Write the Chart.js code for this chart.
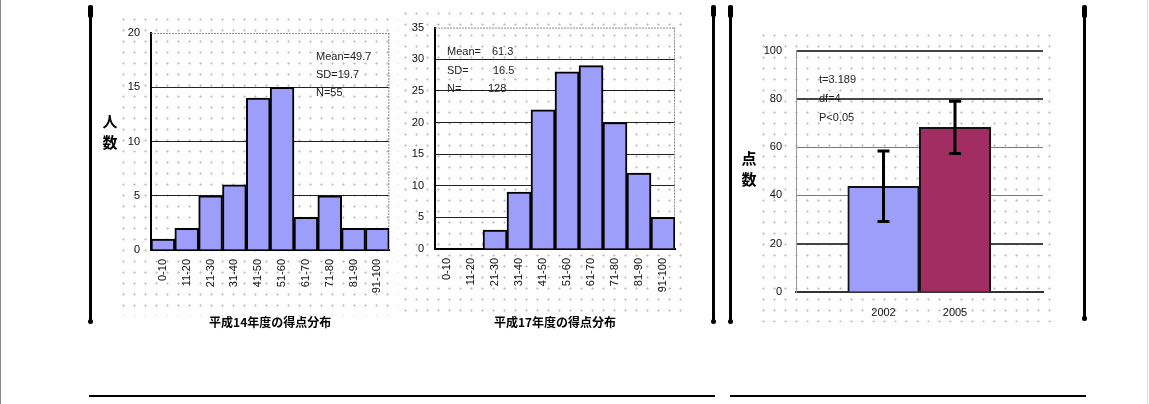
<!DOCTYPE html>
<html>
<head>
<meta charset="utf-8">
<script src="https://cdn.jsdelivr.net/npm/chart.js@4.4.0/dist/chart.umd.min.js"></script>
<style>
  body { margin: 0; background: #fff; }
  #page { position: relative; width: 1149px; height: 404px; overflow: hidden; font-family: "Liberation Sans", Arial, sans-serif; }
  .dots { position: absolute; background-image: radial-gradient(circle, #bdbdbd 0.9px, rgba(255,255,255,0) 1.2px); background-size: 11px 11px; }
  canvas { position: absolute; }
  .ln { position: absolute; background: #000; }
  .cap { position: absolute; background: #000; border-radius: 2px; }
  .note { position: absolute; font-size: 11px; color: #222; white-space: pre; }
  .ytitle { position: absolute; font-family: "Noto Sans CJK JP", sans-serif; font-weight: bold; font-size: 15px; line-height: 21px; width: 18px; text-align: center; color: #000; }
</style>
</head>
<body>
<div id="page">
  <div style="position:absolute;left:0;top:0;width:1px;height:404px;background:#888"></div>
  <div style="position:absolute;left:1147px;top:0;width:1px;height:404px;background:#ddd"></div>

  <div class="dots" style="left:118px;top:14px;width:280px;height:302px"></div>
  <div class="dots" style="left:400px;top:8px;width:290px;height:310px"></div>
  <div class="dots" style="left:758px;top:30px;width:297px;height:292px"></div>

  <canvas id="c1" width="305" height="325" style="left:95px;top:10px"></canvas>
  <canvas id="c2" width="300" height="325" style="left:400px;top:10px"></canvas>
  <canvas id="c3" width="310" height="300" style="left:755px;top:30px"></canvas>

  <div class="ytitle" style="left:101px;top:110px">人<br>数</div>
  <div class="ytitle" style="left:740px;top:147px">点<br>数</div>

  <div class="note" style="left:316px;top:50px">Mean=49.7</div>
  <div class="note" style="left:316px;top:68px">SD=19.7</div>
  <div class="note" style="left:316px;top:86px">N=55</div>

  <div class="note" style="left:447px;top:45px">Mean=</div>
  <div class="note" style="left:492px;top:45px">61.3</div>
  <div class="note" style="left:447px;top:64px">SD=</div>
  <div class="note" style="left:493px;top:64px">16.5</div>
  <div class="note" style="left:447px;top:82px">N=</div>
  <div class="note" style="left:488px;top:82px">128</div>

  <div class="note" style="left:819px;top:73px">t=3.189</div>
  <div class="note" style="left:819px;top:92px">df=4</div>
  <div class="note" style="left:819px;top:111px">P&lt;0.05</div>

  <!-- brackets -->
  <div class="ln" style="left:89px;top:8px;width:3px;height:313px"></div>
  <div class="cap" style="left:88px;top:5px;width:5px;height:13px"></div>
  <div class="cap" style="left:88px;top:319px;width:5px;height:5px;border-radius:3px"></div>

  <div class="ln" style="left:712px;top:8px;width:3px;height:313px"></div>
  <div class="cap" style="left:711px;top:5px;width:5px;height:12px"></div>
  <div class="cap" style="left:711px;top:319px;width:5px;height:5px;border-radius:3px"></div>

  <div class="ln" style="left:729px;top:8px;width:3px;height:313px"></div>
  <div class="cap" style="left:728px;top:5px;width:5px;height:13px"></div>
  <div class="cap" style="left:728px;top:319px;width:5px;height:5px;border-radius:3px"></div>

  <div class="ln" style="left:1083px;top:8px;width:3px;height:310px"></div>
  <div class="cap" style="left:1082px;top:5px;width:5px;height:13px"></div>
  <div class="cap" style="left:1082px;top:316px;width:5px;height:5px;border-radius:2px"></div>

  <div class="ln" style="left:89px;top:395px;width:626px;height:2px"></div>
  <div class="ln" style="left:730px;top:395px;width:356px;height:2px"></div>
</div>

<script>
  var bins = ['0-10', '11-20', '21-30', '31-40', '41-50', '51-60', '61-70', '71-80', '81-90', '91-100'];
  var counts2002 = [1, 2, 5, 6, 14, 15, 3, 5, 2, 2];
  var counts2005 = [0, 0, 3, 9, 22, 28, 29, 20, 12, 5];

  var years = ['2002', '2005'];
  var scoreMeans = [43.8, 68.2];
  var scoreSD = [14.6, 10.8];

  Chart.defaults.font.family = '"Liberation Sans", Arial, sans-serif';
  Chart.defaults.color = '#111';

  // gray dotted border on top / right of the plot
  var framePlugin = {
    id: 'frame',
    beforeDatasetsDraw: function (chart, args, opts) {
      var a = chart.chartArea, c = chart.ctx;
      c.save();
      c.strokeStyle = '#8a8a8a';
      c.lineWidth = 1;
      c.setLineDash([2, 1]);
      c.beginPath();
      if (opts.top) { c.moveTo(a.left, a.top + 0.5); c.lineTo(a.right, a.top + 0.5); }
      if (opts.right) { c.moveTo(a.right - 0.5, a.top); c.lineTo(a.right - 0.5, a.bottom); }
      c.stroke();
      c.restore();
    }
  };

  function histogram(id, values, yMax, yWidth, pad, xHeight, title) {
    return new Chart(document.getElementById(id), {
      type: 'bar',
      data: {
        labels: bins,
        datasets: [{
          data: values,
          backgroundColor: '#9d9dfa',
          borderColor: '#000',
          borderWidth: 2,
          categoryPercentage: 1,
          barPercentage: 1
        }]
      },
      options: {
        responsive: false,
        animation: false,
        layout: { padding: pad },
        plugins: { legend: { display: false }, tooltip: { enabled: false }, frame: { top: true, right: true } },
        scales: {
          x: {
            grid: { display: false, drawTicks: false },
            border: { color: '#000', width: 2 },
            ticks: { autoSkip: false, minRotation: 90, maxRotation: 90, padding: 9, font: { size: 11 } },
            title: { display: true, text: title, color: '#000', font: { size: 12, weight: 'bold', family: '"Noto Sans CJK JP", sans-serif' }, padding: { top: 0, bottom: 5 } },
            afterFit: function (s) { s.height = xHeight; }
          },
          y: {
            min: 0, max: yMax,
            ticks: { stepSize: 5, padding: 11, font: { size: 11 } },
            grid: {
              drawTicks: false,
              color: function (c) { return c.tick.value === yMax ? 'rgba(0,0,0,0)' : '#222'; },
              lineWidth: 1
            },
            border: { color: '#000', width: 2 },
            afterFit: function (s) { s.width = yWidth; }
          }
        }
      },
      plugins: [framePlugin]
    });
  }

  histogram('c1', counts2002, 20, 56, { left: 0, right: 8, top: 23, bottom: 0 }, 85, '平成14年度の得点分布');
  histogram('c2', counts2005, 35, 35, { left: 0, right: 25, top: 16, bottom: 0 }, 86, '平成17年度の得点分布');

  var errorBars = {
    id: 'errorBars',
    afterDatasetsDraw: function (chart) {
      var xs = chart.scales.x, ys = chart.scales.y, c = chart.ctx;
      c.save();
      c.strokeStyle = '#000';
      c.lineWidth = 3;
      scoreMeans.forEach(function (m, i) {
        var x = xs.getPixelForValue(i);
        var top = ys.getPixelForValue(m + scoreSD[i]);
        var bot = ys.getPixelForValue(m - scoreSD[i]);
        c.beginPath();
        c.moveTo(x, top); c.lineTo(x, bot);
        c.moveTo(x - 6, top); c.lineTo(x + 6, top);
        c.moveTo(x - 6, bot); c.lineTo(x + 6, bot);
        c.stroke();
      });
      c.restore();
    }
  };

  new Chart(document.getElementById('c3'), {
    type: 'bar',
    data: {
      datasets: [{
        data: scoreMeans.map(function (m, i) { return { x: i, y: m }; }),
        backgroundColor: ['#9d9dfa', '#a12d62'],
        borderColor: '#111',
        borderWidth: 2,
        categoryPercentage: 1,
        barPercentage: 1
      }]
    },
    options: {
      responsive: false,
      animation: false,
      layout: { padding: { left: 0, right: 22, top: 20, bottom: 0 } },
      plugins: { legend: { display: false }, tooltip: { enabled: false } },
      scales: {
        x: {
          type: 'linear', min: -1.224, max: 2.231, offset: false,
          afterBuildTicks: function (s) { s.ticks = years.map(function (y, i) { return { value: i }; }); },
          ticks: { callback: function (v) { return years[v]; }, padding: 14, font: { size: 11 } },
          grid: { display: false, drawTicks: false, offset: false },
          border: { color: '#333', width: 2 },
          afterFit: function (s) { s.height = 38; }
        },
        y: {
          min: 0, max: 100,
          ticks: { stepSize: 20, padding: 14, font: { size: 11 } },
          grid: {
            drawTicks: false,
            color: function (c) { var v = c.tick.value; return v === 0 ? 'rgba(0,0,0,0)' : (v === 20 || v === 80 || v === 100) ? '#444' : '#777'; },
            lineWidth: function (c) { var v = c.tick.value; return (v === 20 || v === 80 || v === 100) ? 2 : 1; }
          },
          border: { color: '#999', width: 1 },
          afterFit: function (s) { s.width = 41; }
        }
      }
    },
    plugins: [errorBars]
  });
</script>
</body>
</html>
